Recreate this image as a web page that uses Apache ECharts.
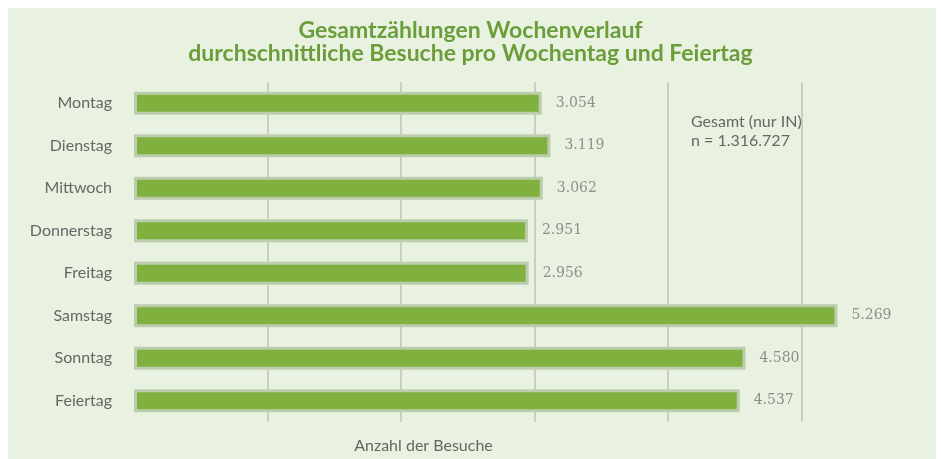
<!DOCTYPE html>
<html>
<head>
<meta charset="utf-8">
<script src="https://cdn.jsdelivr.net/npm/echarts@6/dist/echarts.min.js"></script>
<style>
html,body{margin:0;padding:0;background:#ffffff;}
#chart{width:941px;height:459px;}
</style>
</head>
<body>
<div id="chart"></div>
<script>
const categories = ['Montag','Dienstag','Mittwoch','Donnerstag','Freitag','Samstag','Sonntag','Feiertag'];
const visits = [3054, 3119, 3062, 2951, 2956, 5269, 4580, 4537];
const titleLines = ['Gesamtzählungen Wochenverlauf', 'durchschnittliche Besuche pro Wochentag und Feiertag'];
const axisName = 'Anzahl der Besuche';
const noteLines = ['Gesamt (nur IN)', 'n = 1.316.727'];

const fmt = v => v.toLocaleString('de-DE');

const chart = echarts.init(document.getElementById('chart'), null, {renderer:'canvas'});
chart.setOption({
  backgroundColor: '#ffffff',
  animation: false,
  title: {
    text: titleLines.join('\n'),
    left: 'center',
    top: 14,
    textStyle: {
      fontFamily: 'Lato',
      fontWeight: 'bold',
      fontSize: 23,
      lineHeight: 23,
      color: '#6b9e3a'
    }
  },
  graphic: [
    {
      type: 'rect',
      z: -10,
      silent: true,
      shape: {x: 8, y: 8, width: 928, height: 451},
      style: {fill: '#e9f2e1'}
    },
    {
      type: 'text',
      left: 691,
      top: 112,
      z: 10,
      style: {
        text: noteLines.join('\n'),
        fontFamily: 'Lato',
        fontSize: 16,
        lineHeight: 19,
        fill: '#666666'
      }
    }
  ],
  grid: {left: 134, right: 6, top: 82, bottom: 29, containLabel: false},
  xAxis: {
    type: 'value',
    min: 0,
    max: 6000,
    interval: 1000,
    axisLabel: {show: false},
    axisLine: {show: false},
    axisTick: {show: false},
    splitLine: {
      show: true,
      lineStyle: {
        color: ['transparent', '#c9cec4', '#c9cec4', '#c9cec4', '#c9cec4', '#c9cec4', 'transparent'],
        width: 2
      }
    },
    name: axisName,
    nameLocation: 'middle',
    nameGap: 16,
    nameTextStyle: {
      fontFamily: 'Lato',
      fontSize: 16,
      color: '#666666',
      padding: [0, 222, 0, 0]
    }
  },
  yAxis: {
    type: 'category',
    data: categories,
    inverse: true,
    axisLine: {show: false},
    axisTick: {show: false},
    splitLine: {show: false},
    axisLabel: {
      fontFamily: 'Lato',
      fontSize: 16,
      color: '#666666',
      margin: 22
    }
  },
  series: [{
    type: 'bar',
    data: visits,
    barWidth: 23,
    itemStyle: {
      color: '#80b03e',
      borderColor: '#bccdad',
      borderWidth: 3
    },
    label: {
      show: true,
      position: 'right',
      distance: 14,
      formatter: p => fmt(p.value),
      fontFamily: 'DejaVu Serif',
      fontSize: 14,
      color: '#8e8e8e'
    }
  }]
});
</script>
</body>
</html>
